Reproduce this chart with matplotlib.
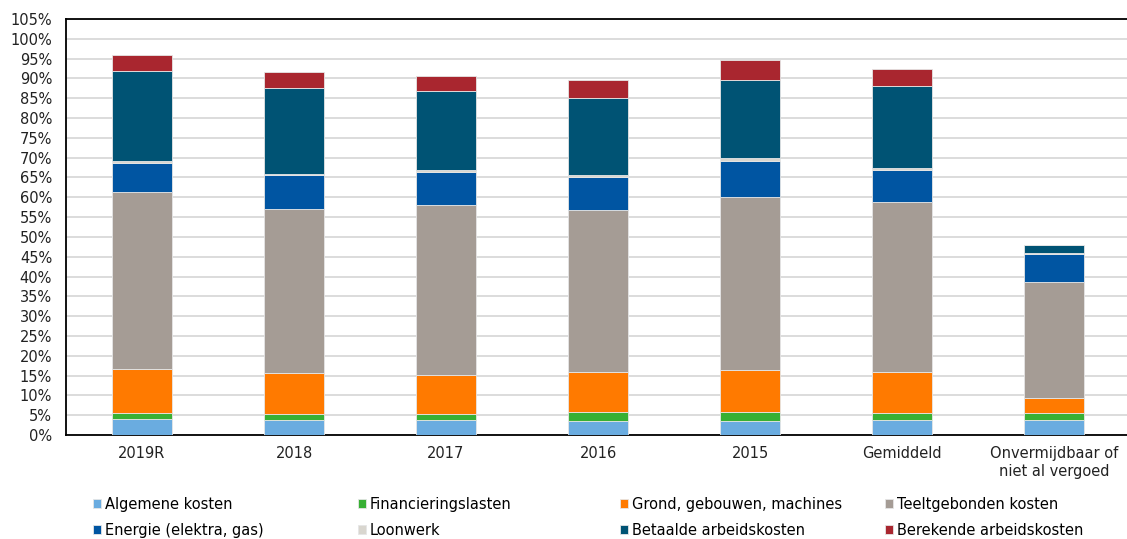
import matplotlib
matplotlib.use("Agg")
import matplotlib.pyplot as plt
import numpy as np

categories = ["2019R", "2018", "2017", "2016", "2015", "Gemiddeld", "Onvermijdbaar of\nniet al vergoed"]
series_names = ["Algemene kosten", "Financieringslasten", "Grond, gebouwen, machines", "Teeltgebonden kosten",
                "Energie (elektra, gas)", "Loonwerk", "Betaalde arbeidskosten", "Berekende arbeidskosten"]
algemene = [4.1, 3.8, 3.8, 3.6, 3.5, 3.8, 3.8]
financiering = [1.4, 1.5, 1.4, 2.3, 2.4, 1.8, 1.8]
grond = [11.1, 10.3, 9.9, 10.0, 10.5, 10.4, 3.8]
teelt = [44.8, 41.4, 43.0, 40.9, 43.7, 42.7, 29.2]
energie = [7.3, 8.6, 8.4, 8.3, 9.1, 8.3, 7.0]
loonwerk = [0.4, 0.4, 0.4, 0.4, 0.7, 0.3, 0.4]
betaalde = [22.7, 21.5, 19.9, 19.5, 19.7, 20.9, 1.9]
berekende = [4.1, 4.0, 3.8, 4.7, 5.1, 4.2, 0.0]
colors = ["#6AACE0", "#38B034", "#FF7A00", "#A59C95", "#0055A2", "#D9D6CF", "#005374", "#A9262F"]
yticks = list(range(0, 110, 5))

data = [algemene, financiering, grond, teelt, energie, loonwerk, betaalde, berekende]

plt.rcParams['font.family'] = ['DejaVu Sans']
fig = plt.figure(figsize=(11.27, 5.39), dpi=100)
ax = fig.add_axes([66/1127, 104/539, 1061/1127, 416/539])

x = np.arange(len(categories))
bottom = np.zeros(len(categories))
handles = []
for name, vals, c in zip(series_names, data, colors):
    vals = np.array(vals)
    b = ax.bar(x, vals, width=0.40, bottom=bottom, color=c, edgecolor="#E6E6E6",
               linewidth=0.6, label=name, zorder=3)
    handles.append(b)
    bottom += vals

ax.set_xlim(-0.5, len(categories) - 0.52)
ax.set_ylim(0, 105)
ax.set_yticks(yticks)
ax.set_yticklabels([f"{t}%" for t in yticks])
ax.set_xticks(x)
ax.set_xticklabels(categories)
ax.tick_params(axis="both", length=0, labelsize=10.5, colors="#222222")
ax.tick_params(axis="y", pad=10)
ax.tick_params(axis="x", pad=8)
ax.grid(axis="y", color="#DCDCDC", linewidth=1.4, zorder=0)
ax.set_axisbelow(True)
for s in ["left", "bottom", "top"]:
    ax.spines[s].set_color("black")
    ax.spines[s].set_linewidth(1.3)
ax.spines["right"].set_visible(False)

col_x = [93, 358, 620, 885]
for i, cx in enumerate(col_x):
    hs = [handles[i], handles[i + 4]]
    fig.legend(hs, [series_names[i], series_names[i + 4]], loc="center left",
               bbox_to_anchor=(cx / 1127, 1 - 517.5 / 539), frameon=False,
               fontsize=10.5, handlelength=0.55, handleheight=0.55, handletextpad=0.25,
               labelspacing=0.75, borderpad=0, borderaxespad=0)

fig.savefig("out.png", dpi=100)
